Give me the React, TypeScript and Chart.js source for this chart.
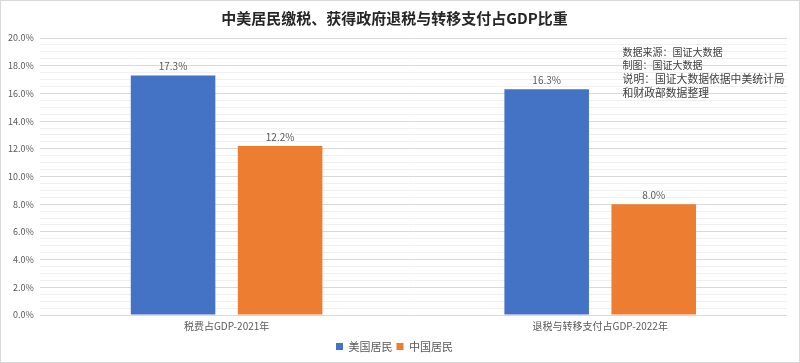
import React, { useEffect, useRef } from 'react';
import { Chart, registerables } from 'chart.js';

Chart.register(...registerables);

const titleText = '中美居民缴税、获得政府退税与转移支付占GDP比重';
const categories = ['税费占GDP-2021年', '退税与转移支付占GDP-2022年'];
const seriesNames = ['美国居民', '中国居民'];
const usValues = [17.3, 16.3];
const cnValues = [12.2, 8.0];
const seriesColors = ['#4472C4', '#ED7D31'];
const yMax = 20;
const yLabelStep = 2;
const yMinorStep = 0.5;
const noteSmall = ['数据来源：国证大数据', '制图：国证大数据'];
const noteLarge = ['说明：国证大数据依据中美统计局', '和财政部数据整理'];

const FONT = '"Noto Sans CJK SC", "Microsoft YaHei", sans-serif';

const dataLabelPlugin = {
  id: 'dataLabels',
  afterDatasetsDraw(chart: any) {
    const ctx = chart.ctx;
    ctx.save();
    ctx.font = `10px ${FONT}`;
    ctx.fillStyle = '#595959';
    ctx.textAlign = 'center';
    ctx.textBaseline = 'middle';
    chart.data.datasets.forEach((ds: any, di: number) => {
      const meta = chart.getDatasetMeta(di);
      meta.data.forEach((el: any, i: number) => {
        ctx.fillText(Number(ds.data[i]).toFixed(1) + '%', el.x, el.y - 9);
      });
    });
    ctx.restore();
  },
};

const notePlugin = {
  id: 'note',
  afterDraw(chart: any) {
    const ctx = chart.ctx;
    const area = chart.chartArea;
    const x = area.left + (area.right - area.left) * 0.78;
    let y = area.top + 14;
    ctx.save();
    ctx.fillStyle = '#404040';
    ctx.textAlign = 'left';
    ctx.textBaseline = 'middle';
    ctx.font = `10px ${FONT}`;
    noteSmall.forEach((t) => {
      ctx.fillText(t, x, y);
      y += 13.5;
    });
    ctx.font = `10.8px ${FONT}`;
    noteLarge.forEach((t) => {
      ctx.fillText(t, x, y);
      y += 14;
    });
    ctx.restore();
  },
};

export default function App() {
  const ref = useRef<HTMLCanvasElement | null>(null);
  useEffect(() => {
    document.body.style.margin = '0';
    if (!ref.current) return;
    const chart = new Chart(ref.current, {
      type: 'bar',
      data: {
        labels: categories,
        datasets: [
          {
            label: seriesNames[0],
            data: usValues,
            backgroundColor: seriesColors[0],
            categoryPercentage: 0.573,
            barPercentage: 0.79,
          },
          {
            label: seriesNames[1],
            data: cnValues,
            backgroundColor: seriesColors[1],
            categoryPercentage: 0.573,
            barPercentage: 0.79,
          },
        ],
      },
      options: {
        animation: false,
        responsive: true,
        maintainAspectRatio: false,
        layout: { padding: { left: 1, right: 12, top: 0, bottom: 0 } },
        plugins: {
          title: {
            display: true,
            text: titleText,
            font: { family: FONT, size: 15, weight: 'bold' },
            color: '#262626',
            padding: { top: 8, bottom: 11 },
          },
          legend: {
            position: 'bottom',
            labels: {
              boxWidth: 7,
              boxHeight: 7,
              padding: 4,
              color: '#595959',
              font: { family: FONT, size: 11 },
            },
          },
          tooltip: { enabled: false },
        },
        scales: {
          x: {
            grid: { display: false, drawTicks: false },
            border: { display: false },
            ticks: {
              color: '#595959',
              font: { family: FONT, size: 10 },
              padding: 5,
            },
          },
          y: {
            min: 0,
            max: yMax,
            border: { display: false },
            grid: {
              drawTicks: false,
              color: (c: any) => {
                const v = c.tick ? c.tick.value : 0;
                return Math.abs(v / yLabelStep - Math.round(v / yLabelStep)) < 1e-6 ? '#d9d9d9' : '#f0f0f0';
              },
            },
            ticks: {
              stepSize: yMinorStep,
              autoSkip: false,
              padding: 6,
              color: '#595959',
              font: { family: FONT, size: 9 },
              callback: (v: any) => {
                const n = Number(v);
                return Math.abs(n / yLabelStep - Math.round(n / yLabelStep)) < 1e-6 ? n.toFixed(1) + '%' : '';
              },
            },
          },
        },
      },
      plugins: [dataLabelPlugin, notePlugin],
    } as any);
    return () => chart.destroy();
  }, []);
  return (
    <div
      style={{
        position: 'fixed',
        left: 0,
        top: 0,
        width: 800,
        height: 363,
        boxSizing: 'border-box',
        border: '1px solid #d9d9d9',
        background: '#fff',
      }}
    >
      <canvas ref={ref} />
    </div>
  );
}
